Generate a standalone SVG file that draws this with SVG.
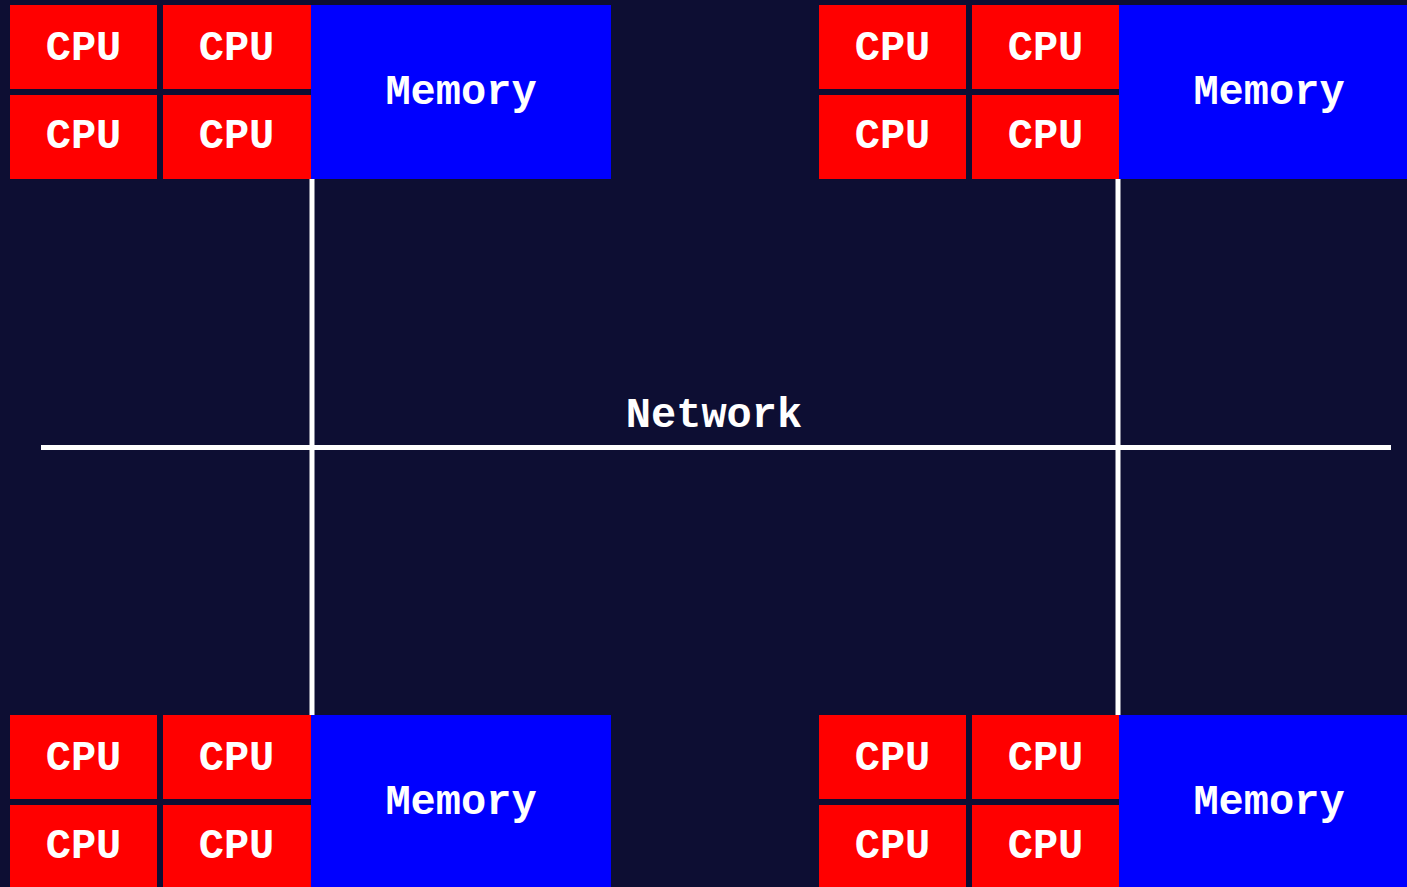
<svg xmlns="http://www.w3.org/2000/svg" width="1407" height="887" viewBox="0 0 1407 887">
<style>
.cpu{fill:#ff0000}
.mem{fill:#0000ff}
.t{fill:#ffffff;font-family:"Liberation Mono","Courier New",monospace;font-weight:bold;font-size:42px;text-anchor:middle}
.wire{stroke:#ffffff;stroke-width:5;fill:none}
</style>
<rect x="0" y="0" width="1407" height="887" fill="#0d0e33"/>
<g id="connectors">
<line class="wire" x1="41" y1="447.5" x2="1391" y2="447.5"/>
<line class="wire" x1="312" y1="179" x2="312" y2="716"/>
<line class="wire" x1="1118" y1="179" x2="1118" y2="716"/>
<text class="t" x="714" y="427">Network</text>
</g>
<g id="node-tl">
<rect class="cpu" x="10" y="5" width="147" height="84"/>
<rect class="cpu" x="163" y="5" width="148" height="84"/>
<rect class="cpu" x="10" y="95" width="147" height="84"/>
<rect class="cpu" x="163" y="95" width="148" height="84"/>
<rect class="mem" x="311" y="5" width="300" height="174"/>
<text class="t" x="83.5" y="60">CPU</text>
<text class="t" x="236.5" y="60">CPU</text>
<text class="t" x="83.5" y="148">CPU</text>
<text class="t" x="236.5" y="148">CPU</text>
<text class="t" x="461" y="104">Memory</text>
</g>
<g id="node-tr">
<rect class="cpu" x="819" y="5" width="147" height="84"/>
<rect class="cpu" x="972" y="5" width="148" height="84"/>
<rect class="cpu" x="819" y="95" width="147" height="84"/>
<rect class="cpu" x="972" y="95" width="148" height="84"/>
<rect class="mem" x="1119" y="5" width="300" height="174"/>
<text class="t" x="892.5" y="60">CPU</text>
<text class="t" x="1045.5" y="60">CPU</text>
<text class="t" x="892.5" y="148">CPU</text>
<text class="t" x="1045.5" y="148">CPU</text>
<text class="t" x="1269" y="104">Memory</text>
</g>
<g id="node-bl">
<rect class="cpu" x="10" y="715" width="147" height="84"/>
<rect class="cpu" x="163" y="715" width="148" height="84"/>
<rect class="cpu" x="10" y="805" width="147" height="84"/>
<rect class="cpu" x="163" y="805" width="148" height="84"/>
<rect class="mem" x="311" y="715" width="300" height="174"/>
<text class="t" x="83.5" y="770">CPU</text>
<text class="t" x="236.5" y="770">CPU</text>
<text class="t" x="83.5" y="858">CPU</text>
<text class="t" x="236.5" y="858">CPU</text>
<text class="t" x="461" y="814">Memory</text>
</g>
<g id="node-br">
<rect class="cpu" x="819" y="715" width="147" height="84"/>
<rect class="cpu" x="972" y="715" width="148" height="84"/>
<rect class="cpu" x="819" y="805" width="147" height="84"/>
<rect class="cpu" x="972" y="805" width="148" height="84"/>
<rect class="mem" x="1119" y="715" width="300" height="174"/>
<text class="t" x="892.5" y="770">CPU</text>
<text class="t" x="1045.5" y="770">CPU</text>
<text class="t" x="892.5" y="858">CPU</text>
<text class="t" x="1045.5" y="858">CPU</text>
<text class="t" x="1269" y="814">Memory</text>
</g>
</svg>
